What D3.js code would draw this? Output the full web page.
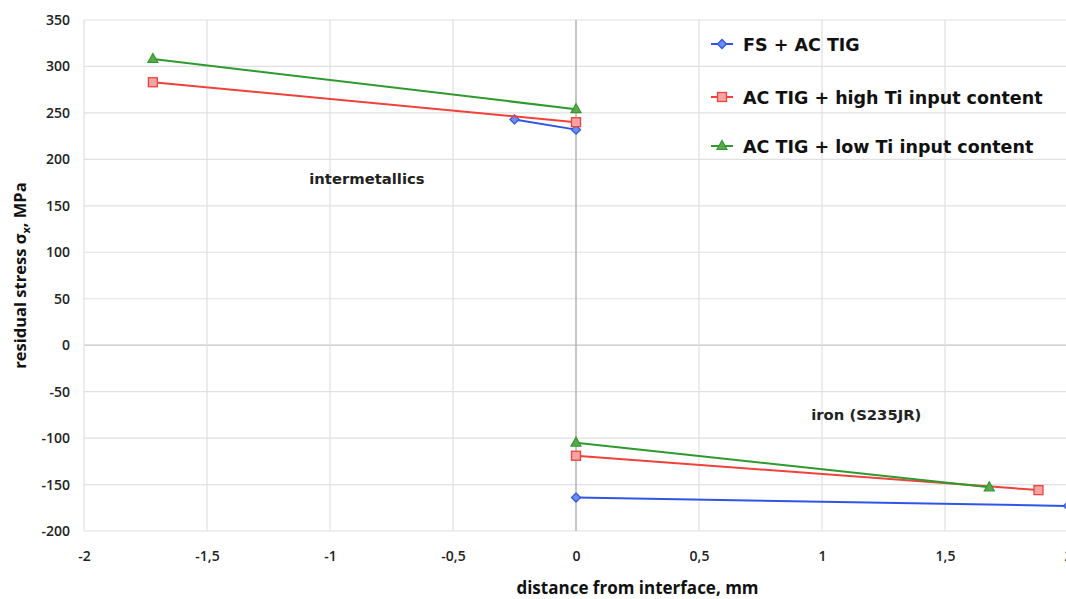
<!DOCTYPE html>
<html>
<head>
<meta charset="utf-8">
<script src="https://cdn.jsdelivr.net/npm/d3@7"></script>
<style>
  body { margin: 0; background: #fff; }
  svg { display: block; }
</style>
</head>
<body>
<div id="viz"></div>
<script>
"use strict";

const w = 1066;
const h = 599;

// data
const seriesNames = ["FS + AC TIG", "AC TIG + high Ti input content", "AC TIG + low Ti input content"];
const seriesColors = ["#2f55e8", "#f0413a", "#2e9a2e"];
const seriesMarkers = ["diamond", "square", "triangle"];

// each series is two separate segments (intermetallics side, iron side)
const fsAcTig = [
  [[-0.25, 243], [0, 232]],
  [[0, -164], [2, -173]]
];
const highTi = [
  [[-1.72, 283], [0, 240]],
  [[0, -119], [1.88, -156]]
];
const lowTi = [
  [[-1.72, 308], [0, 254]],
  [[0, -105], [1.68, -153]]
];
const allSeries = [fsAcTig, highTi, lowTi];

const xTicks = [-2, -1.5, -1, -0.5, 0, 0.5, 1, 1.5, 2];
const yTicks = [350, 300, 250, 200, 150, 100, 50, 0, -50, -100, -150, -200];

const notes = [
  { text: "intermetallics", x: -0.85, y: 173 },
  { text: "iron (S235JR)", x: 1.18, y: -80 }
];

const margin = { top: 20, right: -2, bottom: 68, left: 84 };

const svg = d3.select("#viz")
  .append("svg")
  .attr("width", w)
  .attr("height", h);

const x = d3.scaleLinear()
  .domain([-2, 2])
  .range([margin.left, w - margin.right]);

const y = d3.scaleLinear()
  .domain([-200, 350])
  .range([h - margin.bottom, margin.top]);

const fmt = d => String(d).replace(".", ",");

// grid
const grid = svg.append("g");
grid.selectAll("line.hg")
  .data(yTicks)
  .join("line")
  .attr("class", "hg")
  .attr("x1", x(-2)).attr("x2", x(2))
  .attr("y1", d => y(d)).attr("y2", d => y(d))
  .attr("stroke", d => d === 0 ? "#c4c4c4" : "#e0e0e0")
  .attr("stroke-width", 1.2);

grid.selectAll("line.vg")
  .data(xTicks)
  .join("line")
  .attr("class", "vg")
  .attr("x1", d => x(d)).attr("x2", d => x(d))
  .attr("y1", y(350)).attr("y2", y(-200))
  .attr("stroke", d => d === 0 ? "#b8b8b8" : "#e0e0e0")
  .attr("stroke-width", d => d === 0 ? 1.6 : 1.2);

// axes
const yAxis = svg.append("g")
  .attr("transform", `translate(${margin.left},0)`)
  .call(d3.axisLeft(y).tickValues(yTicks).tickSize(0).tickPadding(14).tickFormat(d => d));
yAxis.select(".domain").remove();
yAxis.selectAll("text")
  .attr("font-family", "'Open Sans', sans-serif")
  .attr("font-weight", 600)
  .attr("font-size", 14)
  .attr("fill", "#222");

const xAxis = svg.append("g")
  .attr("transform", `translate(0,${y(-200)})`)
  .call(d3.axisBottom(x).tickValues(xTicks).tickSize(0).tickPadding(20).tickFormat(fmt));
xAxis.select(".domain").remove();
xAxis.selectAll("text")
  .attr("font-family", "'Open Sans', sans-serif")
  .attr("font-weight", 600)
  .attr("font-size", 14)
  .attr("fill", "#222");

// axis titles
svg.append("text")
  .attr("x", x(0.25))
  .attr("y", 594)
  .attr("text-anchor", "middle")
  .attr("font-family", "'Open Sans', sans-serif")
  .attr("font-weight", "bold")
  .attr("font-size", 17)
  .attr("fill", "#111")
  .text("distance from interface, mm");

const yt = svg.append("text")
  .attr("transform", `translate(26,${y(75)}) rotate(-90)`)
  .attr("text-anchor", "middle")
  .attr("font-family", "'Open Sans', sans-serif")
  .attr("font-weight", "bold")
  .attr("font-size", 16.5)
  .attr("fill", "#111");
yt.append("tspan").text("residual stress σ");
yt.append("tspan").attr("font-size", 11).attr("dy", 4).text("x");
yt.append("tspan").attr("dy", -4).text(", MPa");

// series
const line = d3.line().x(d => x(d[0])).y(d => y(d[1]));

function drawMarker(g, kind, color, cx, cy) {
  if (kind === "diamond") {
    g.append("path")
      .attr("d", `M${cx},${cy - 4.5}L${cx + 4.5},${cy}L${cx},${cy + 4.5}L${cx - 4.5},${cy}Z`)
      .attr("fill", "#6f8ff0").attr("stroke", color).attr("stroke-width", 1.3);
  } else if (kind === "square") {
    g.append("rect")
      .attr("x", cx - 4.5).attr("y", cy - 4.5).attr("width", 9).attr("height", 9)
      .attr("fill", "#f3a5a5").attr("stroke", color).attr("stroke-width", 1.3);
  } else {
    g.append("path")
      .attr("d", `M${cx},${cy - 5.5}L${cx + 5},${cy + 3.5}L${cx - 5},${cy + 3.5}Z`)
      .attr("fill", "#5aa84a").attr("stroke", color).attr("stroke-width", 1.2);
  }
}

const plot = svg.append("g");
allSeries.forEach((segments, i) => {
  const g = plot.append("g");
  segments.forEach(seg => {
    g.append("path")
      .datum(seg)
      .attr("d", line)
      .attr("fill", "none")
      .attr("stroke", seriesColors[i])
      .attr("stroke-width", 2);
  });
  segments.forEach(seg => {
    seg.forEach(p => drawMarker(g, seriesMarkers[i], seriesColors[i], x(p[0]), y(p[1])));
  });
});

// annotations
svg.selectAll("text.note")
  .data(notes)
  .join("text")
  .attr("class", "note")
  .attr("x", d => x(d.x))
  .attr("y", d => y(d.y))
  .attr("text-anchor", "middle")
  .attr("font-family", "'DejaVu Sans', Verdana, sans-serif")
  .attr("font-weight", "bold")
  .attr("font-size", 14.8)
  .attr("fill", "#222")
  .text(d => d.text);

// legend
const legend = svg.append("g").attr("transform", "translate(711,44)");
seriesNames.forEach((name, i) => {
  const g = legend.append("g").attr("transform", `translate(0,${[0, 53, 102][i]})`);
  g.append("line")
    .attr("x1", 0).attr("x2", 22).attr("y1", 0).attr("y2", 0)
    .attr("stroke", seriesColors[i]).attr("stroke-width", 2);
  drawMarker(g, seriesMarkers[i], seriesColors[i], 11, 0);
  g.append("text")
    .attr("x", 32)
    .attr("y", 6.5)
    .attr("font-family", "'DejaVu Sans', Verdana, sans-serif")
    .attr("font-weight", "bold")
    .attr("font-size", 17.5)
    .attr("fill", "#111")
    .text(name);
});
</script>
</body>
</html>
